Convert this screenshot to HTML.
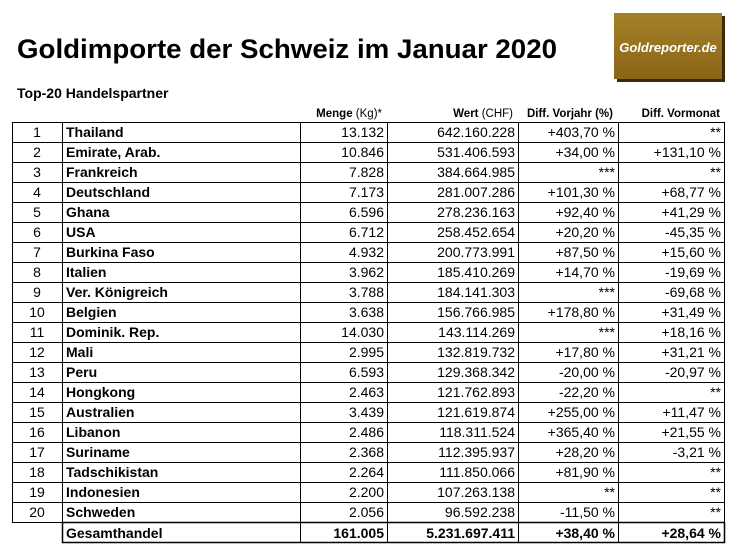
<!DOCTYPE html>
<html><head><meta charset="utf-8"><style>
body{margin:0;background:#fff;width:734px;height:556px;overflow:hidden}
svg{display:block;font-family:"Liberation Sans",Arial,sans-serif}
.n{font-size:14px;fill:#000}
.b{font-size:14px;font-weight:bold}
.h{font-size:11.5px;font-weight:bold}
</style></head><body>
<svg width="734" height="556" viewBox="0 0 734 556">
<text x="17" y="58" font-size="27" font-weight="bold" textLength="540" lengthAdjust="spacingAndGlyphs">Goldimporte der Schweiz im Januar 2020</text>
<defs><linearGradient id="g" x1="0" y1="0" x2="0" y2="1"><stop offset="0" stop-color="#a5802a"/><stop offset="1" stop-color="#8a6516"/></linearGradient></defs>
<rect x="617" y="16" width="108" height="66" fill="#3a2a08"/>
<rect x="614" y="13" width="108" height="66" fill="url(#g)"/>
<text x="668" y="52" text-anchor="middle" font-size="13" font-style="italic" font-weight="bold" fill="#fff">Goldreporter.de</text>
<text x="17" y="98" class="b" font-size="13">Top-20 Handelspartner</text>
<text x="382" y="117" class="h" text-anchor="end">Menge <tspan font-weight="normal">(Kg)*</tspan></text>
<text x="513" y="117" class="h" text-anchor="end">Wert <tspan font-weight="normal">(CHF)</tspan></text>
<text x="613" y="117" class="h" text-anchor="end">Diff. Vorjahr (%)</text>
<text x="720" y="117" class="h" text-anchor="end">Diff. Vormonat</text>
<g stroke="#000" stroke-width="1" fill="none">
<rect x="12.5" y="122.5" width="712" height="400"/>
<rect x="62.5" y="522.5" width="662" height="20" stroke-width="1.5"/>
<line x1="62.5" y1="122" x2="62.5" y2="543"/>
<line x1="387.5" y1="122" x2="387.5" y2="543"/>
<line x1="518.5" y1="122" x2="518.5" y2="543"/>
<line x1="618.5" y1="122" x2="618.5" y2="543"/>
<line x1="300.5" y1="122" x2="300.5" y2="543"/>
<path d="M12 142.5H725M12 162.5H725M12 182.5H725M12 202.5H725M12 222.5H725M12 242.5H725M12 262.5H725M12 282.5H725M12 302.5H725M12 322.5H725M12 342.5H725M12 362.5H725M12 382.5H725M12 402.5H725M12 422.5H725M12 442.5H725M12 462.5H725M12 482.5H725M12 502.5H725"/>
</g>
<g class="n">
<g text-anchor="middle">
<text x="37" y="137">1</text><text x="37" y="157">2</text><text x="37" y="177">3</text><text x="37" y="197">4</text><text x="37" y="217">5</text><text x="37" y="237">6</text><text x="37" y="257">7</text><text x="37" y="277">8</text><text x="37" y="297">9</text><text x="37" y="317">10</text><text x="37" y="337">11</text><text x="37" y="357">12</text><text x="37" y="377">13</text><text x="37" y="397">14</text><text x="37" y="417">15</text><text x="37" y="437">16</text><text x="37" y="457">17</text><text x="37" y="477">18</text><text x="37" y="497">19</text><text x="37" y="517">20</text>
</g>
<g font-weight="bold">
<text x="66" y="137">Thailand</text><text x="66" y="157">Emirate, Arab.</text><text x="66" y="177">Frankreich</text><text x="66" y="197">Deutschland</text><text x="66" y="217">Ghana</text><text x="66" y="237">USA</text><text x="66" y="257">Burkina Faso</text><text x="66" y="277">Italien</text><text x="66" y="297">Ver. Königreich</text><text x="66" y="317">Belgien</text><text x="66" y="337">Dominik. Rep.</text><text x="66" y="357">Mali</text><text x="66" y="377">Peru</text><text x="66" y="397">Hongkong</text><text x="66" y="417">Australien</text><text x="66" y="437">Libanon</text><text x="66" y="457">Suriname</text><text x="66" y="477">Tadschikistan</text><text x="66" y="497">Indonesien</text><text x="66" y="517">Schweden</text><text x="66" y="538">Gesamthandel</text>
</g>
<g text-anchor="end">
<text x="384" y="137">13.132</text><text x="384" y="157">10.846</text><text x="384" y="177">7.828</text><text x="384" y="197">7.173</text><text x="384" y="217">6.596</text><text x="384" y="237">6.712</text><text x="384" y="257">4.932</text><text x="384" y="277">3.962</text><text x="384" y="297">3.788</text><text x="384" y="317">3.638</text><text x="384" y="337">14.030</text><text x="384" y="357">2.995</text><text x="384" y="377">6.593</text><text x="384" y="397">2.463</text><text x="384" y="417">3.439</text><text x="384" y="437">2.486</text><text x="384" y="457">2.368</text><text x="384" y="477">2.264</text><text x="384" y="497">2.200</text><text x="384" y="517">2.056</text>
<text x="515" y="137">642.160.228</text><text x="515" y="157">531.406.593</text><text x="515" y="177">384.664.985</text><text x="515" y="197">281.007.286</text><text x="515" y="217">278.236.163</text><text x="515" y="237">258.452.654</text><text x="515" y="257">200.773.991</text><text x="515" y="277">185.410.269</text><text x="515" y="297">184.141.303</text><text x="515" y="317">156.766.985</text><text x="515" y="337">143.114.269</text><text x="515" y="357">132.819.732</text><text x="515" y="377">129.368.342</text><text x="515" y="397">121.762.893</text><text x="515" y="417">121.619.874</text><text x="515" y="437">118.311.524</text><text x="515" y="457">112.395.937</text><text x="515" y="477">111.850.066</text><text x="515" y="497">107.263.138</text><text x="515" y="517">96.592.238</text>
<text x="615" y="137">+403,70 %</text><text x="615" y="157">+34,00 %</text><text x="615" y="177">***</text><text x="615" y="197">+101,30 %</text><text x="615" y="217">+92,40 %</text><text x="615" y="237">+20,20 %</text><text x="615" y="257">+87,50 %</text><text x="615" y="277">+14,70 %</text><text x="615" y="297">***</text><text x="615" y="317">+178,80 %</text><text x="615" y="337">***</text><text x="615" y="357">+17,80 %</text><text x="615" y="377">-20,00 %</text><text x="615" y="397">-22,20 %</text><text x="615" y="417">+255,00 %</text><text x="615" y="437">+365,40 %</text><text x="615" y="457">+28,20 %</text><text x="615" y="477">+81,90 %</text><text x="615" y="497">**</text><text x="615" y="517">-11,50 %</text>
<text x="721" y="137">**</text><text x="721" y="157">+131,10 %</text><text x="721" y="177">**</text><text x="721" y="197">+68,77 %</text><text x="721" y="217">+41,29 %</text><text x="721" y="237">-45,35 %</text><text x="721" y="257">+15,60 %</text><text x="721" y="277">-19,69 %</text><text x="721" y="297">-69,68 %</text><text x="721" y="317">+31,49 %</text><text x="721" y="337">+18,16 %</text><text x="721" y="357">+31,21 %</text><text x="721" y="377">-20,97 %</text><text x="721" y="397">**</text><text x="721" y="417">+11,47 %</text><text x="721" y="437">+21,55 %</text><text x="721" y="457">-3,21 %</text><text x="721" y="477">**</text><text x="721" y="497">**</text><text x="721" y="517">**</text>
<g font-weight="bold"><text x="384" y="538">161.005</text><text x="515" y="538">5.231.697.411</text><text x="615" y="538">+38,40 %</text><text x="721" y="538">+28,64 %</text></g>
</g>
</g>
</svg>
</body></html>
